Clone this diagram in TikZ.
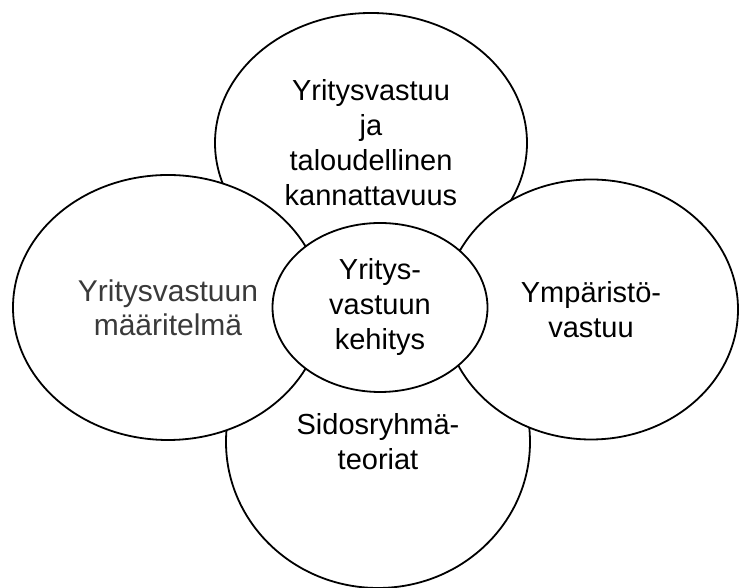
\documentclass[tikz,border=0pt]{standalone}
\usepackage{fontspec}
\setmainfont{Liberation Sans}
\usetikzlibrary{shapes.geometric, positioning}
\definecolor{darkgraytext}{HTML}{3A3A3A}
\tikzset{
      bubble/.style 2 args={
		ellipse,
		draw=black,
		fill=white,
		line width=1.8pt,
		inner sep=0pt,
		outer sep=0pt,
		align=center,
		minimum width={#1pt},
		minimum height={#2pt},
		font=\fontsize{29}{35}\selectfont,
	  },
  		big text/.style={
    	font=\fontsize{30}{34}\selectfont,
    	text=darkgraytext,
      }
  	}

\begin{document}
\begin{tikzpicture}[x=1pt, y=1pt]
    \useasboundingbox (0,0) rectangle (739,588);
    \node [bubble={312}{260}] (top) at (371,445) {Yritysvastuu\\ja\\taloudellinen\\kannattavuus};
    \node [bubble={304}{292}] (bottom) at (378,146) {Sidosryhmä-\\teoriat};
    \node [bubble={310}{265}, big text] (left) at (168,280.5) {Yritysvastuun\\määritelmä};
    \node [bubble={294}{260}] (right) at (591,278.5) {Ympäristö-\\vastuu};
    \node [bubble={215}{169}] (center) at (380,280.5) {Yritys-\\vastuun\\kehitys};
  \end{tikzpicture}
\end{document}
